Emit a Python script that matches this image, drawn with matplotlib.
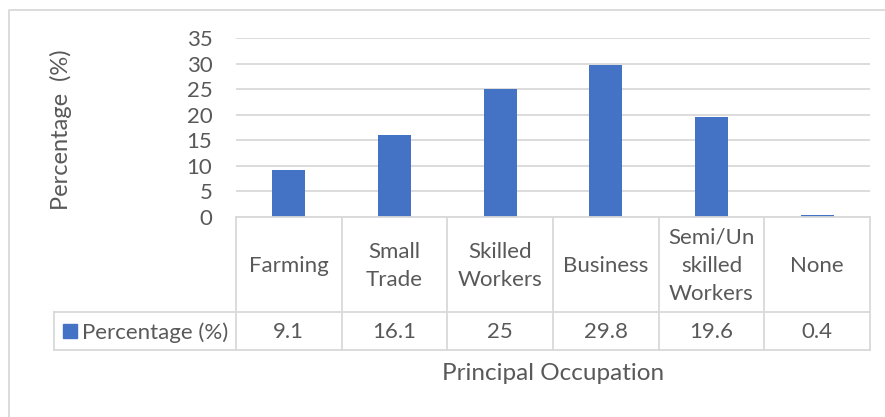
import matplotlib.pyplot as plt
import matplotlib.transforms as mtransforms
from matplotlib.patches import Rectangle
from matplotlib.lines import Line2D

# Données
categories = ['Farming', 'Small\nTrade', 'Skilled\nWorkers', 'Business', 'Semi/Un\nskilled\nWorkers', 'None']
percentages = [9.1, 16.1, 25, 29.8, 19.6, 0.4]
value_labels = ['9.1', '16.1', '25', '29.8', '19.6', '0.4']
series_name = 'Percentage (%)'
y_ticks = [0, 5, 10, 15, 20, 25, 30, 35]

W, H = 885, 417
bar_color = '#4472C4'
text_color = '#595959'
grid_color = '#D9D9D9'
plt.rcParams['font.family'] = ['Lato', 'DejaVu Sans']
fs = 16

fig = plt.figure(figsize=(W / 100, H / 100), dpi=100)

def fx(px):
    return px / W

def fy(py):
    return 1 - py / H

# zone de tracé en pixels
left, right, top, bottom = 236, 870, 38.3, 216.8
ax = fig.add_axes([fx(left), fy(bottom), fx(right - left), (bottom - top) / H])
x = list(range(len(categories)))
ax.bar(x, percentages, width=0.31, color=bar_color, zorder=3)
ax.set_xlim(-0.5, len(categories) - 0.5)
ax.set_ylim(0, 35)
ax.set_yticks(y_ticks)
ax.set_yticklabels([str(t) for t in y_ticks], fontsize=fs, color=text_color)
ax.tick_params(axis='y', length=0, pad=17)
ax.set_xticks([])
ax.grid(axis='y', color=grid_color, linewidth=1.3, zorder=0)
for s in ax.spines.values():
    s.set_visible(False)

fig.text(fx(61), fy(130), 'Percentage  (%)', rotation=90, ha='center', va='center',
         fontsize=17, color=text_color)

# Tableau de données sous l'axe
trans = mtransforms.blended_transform_factory(ax.transData, fig.transFigure)
row_top, row_mid, row_bot = 216.8, 312, 350
tcol = '#D9D9D9'
lw = 1.3
# lignes horizontales
fig.add_artist(Line2D([fx(left), fx(right)], [fy(row_top)] * 2, color=tcol, lw=lw))
fig.add_artist(Line2D([fx(54), fx(right)], [fy(row_mid)] * 2, color=tcol, lw=lw))
fig.add_artist(Line2D([fx(54), fx(right)], [fy(row_bot)] * 2, color=tcol, lw=lw))
# lignes verticales
for i in range(len(categories) + 1):
    fig.add_artist(Line2D([i - 0.5, i - 0.5], [fy(row_top), fy(row_bot)],
                          color=tcol, lw=lw, transform=trans))
fig.add_artist(Line2D([fx(54)] * 2, [fy(row_mid), fy(row_bot)], color=tcol, lw=lw))

for i, (cat, lab) in enumerate(zip(categories, value_labels)):
    fig.text(i, fy((row_top + row_mid) / 2 + 1.5), cat, transform=trans, ha='center', va='center',
             fontsize=fs, color=text_color, linespacing=1.5)
    fig.text(i, fy((row_mid + row_bot) / 2 + 1.5), lab, transform=trans, ha='center', va='center',
             fontsize=fs, color=text_color)

# légende dans le tableau
fig.add_artist(Rectangle((fx(63), fy(338)), fx(14), 14 / H, color=bar_color))
fig.text(fx(82), fy((row_mid + row_bot) / 2 + 1.5), series_name, ha='left', va='center',
         fontsize=fs, color=text_color)

fig.text(fx(553), fy(373.5), 'Principal Occupation', ha='center', va='center',
         fontsize=17.5, color=text_color)

# cadre du graphique
fig.add_artist(Line2D([fx(8.5), fx(8.5), fx(W + 5)], [fy(H + 5), fy(9.5), fy(9.5)],
                      color='#D9D9D9', lw=1.3))

fig.savefig('out.png', dpi=100, facecolor='white')
